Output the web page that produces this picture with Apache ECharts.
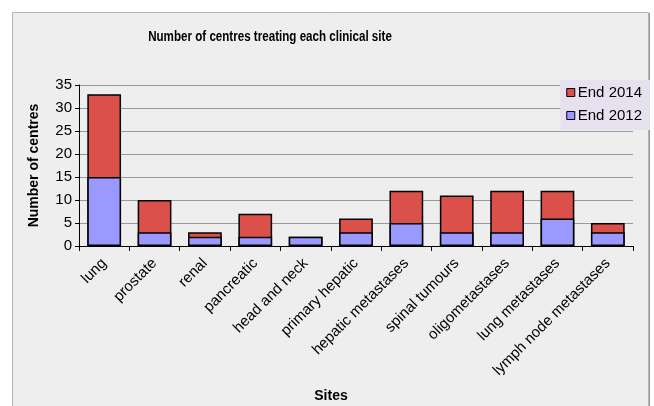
<!DOCTYPE html>
<html>
<head>
<meta charset="utf-8">
<script src="https://cdn.jsdelivr.net/npm/echarts@6/dist/echarts.min.js"></script>
<style>
  html, body { margin: 0; padding: 0; background: #ffffff; }
  #chart { width: 654px; height: 406px; }
</style>
</head>
<body>
<div id="chart"></div>
<script>
// Clinical sites and number of centres treating each
const sites = ['lung', 'prostate', 'renal', 'pancreatic', 'head and neck', 'primary hepatic',
  'hepatic metastases', 'spinal tumours', 'oligometastases', 'lung metastases', 'lymph node metastases'];
const end2012 = [15, 3, 2, 2, 2, 3, 5, 3, 3, 6, 3];
const end2014 = [33, 10, 3, 7, 2, 6, 12, 11, 12, 12, 5];
const yTicks = [0, 5, 10, 15, 20, 25, 30, 35];
const chartTitle = 'Number of centres treating each clinical site';

const font = "'Liberation Sans', Arial, sans-serif";

const chart = echarts.init(document.getElementById('chart'), null, { renderer: 'canvas' });

chart.setOption({
  backgroundColor: '#ffffff',
  animation: false,
  graphic: [
    {
      // chart panel with a slightly heavier right edge
      type: 'rect', z: -10, silent: true,
      shape: { x: 12.5, y: 12.5, width: 636, height: 420 },
      style: { fill: '#eeeeee', stroke: '#b4b4b4', lineWidth: 1 }
    },
    {
      type: 'line', z: -9, silent: true,
      shape: { x1: 649.5, y1: 13, x2: 649.5, y2: 406 },
      style: { stroke: '#999999', lineWidth: 1 }
    },
    {
      // narrow bold title
      type: 'text', silent: true,
      x: 270, y: 37, scaleX: 0.8, scaleY: 1,
      style: {
        text: chartTitle, fill: '#000',
        font: "bold 14.5px 'Liberation Sans', Arial, sans-serif",
        textAlign: 'center', textVerticalAlign: 'middle'
      }
    }
  ],
  legend: {
    right: 4, top: 80,
    orient: 'vertical',
    data: ['End 2014', 'End 2012'],
    backgroundColor: '#e6e1ee',
    padding: [5, 8, 7, 6],
    itemGap: 8,
    itemWidth: 8, itemHeight: 8,
    icon: 'rect',
    itemStyle: { borderColor: '#000', borderWidth: 1 },
    textStyle: { fontFamily: font, fontSize: 15, color: '#000', padding: [0, 0, 0, -2] }
  },
  grid: { left: 79, right: 21, top: 85, bottom: 160, containLabel: false, outerBoundsMode: 'none' },
  xAxis: {
    type: 'category',
    data: sites,
    name: 'Sites',
    nameLocation: 'middle',
    nameGap: 143,
    nameTextStyle: { fontFamily: font, fontSize: 14, fontWeight: 'bold', color: '#000', padding: [0, 50, 0, 0] },
    axisLine: { lineStyle: { color: '#000', width: 1 } },
    axisTick: { show: true, alignWithLabel: false, length: 5, lineStyle: { color: '#000' } },
    axisLabel: { rotate: 45, interval: 0, fontFamily: font, fontSize: 15, color: '#000', margin: 15 }
  },
  yAxis: {
    type: 'value',
    min: yTicks[0], max: yTicks[yTicks.length - 1], interval: 5,
    name: 'Number of centres',
    nameLocation: 'middle',
    nameGap: 38,
    nameTextStyle: { fontFamily: font, fontSize: 14, fontWeight: 'bold', color: '#000' },
    axisLine: { show: true, lineStyle: { color: '#000', width: 1 } },
    axisTick: { show: true, length: 4, lineStyle: { color: '#000' } },
    axisLabel: { fontFamily: font, fontSize: 15, color: '#000', margin: 7 },
    splitLine: { lineStyle: { color: '#999999', width: 1 } }
  },
  series: [
    {
      name: 'End 2014', type: 'bar', data: end2014,
      barWidth: '67%', barGap: '-100%',
      itemStyle: { color: '#dc504c', borderColor: '#000', borderWidth: 1.5 }
    },
    {
      name: 'End 2012', type: 'bar', data: end2012,
      barWidth: '67%', barGap: '-100%',
      itemStyle: { color: '#9999ff', borderColor: '#000', borderWidth: 1.5 }
    }
  ]
});
</script>
</body>
</html>
